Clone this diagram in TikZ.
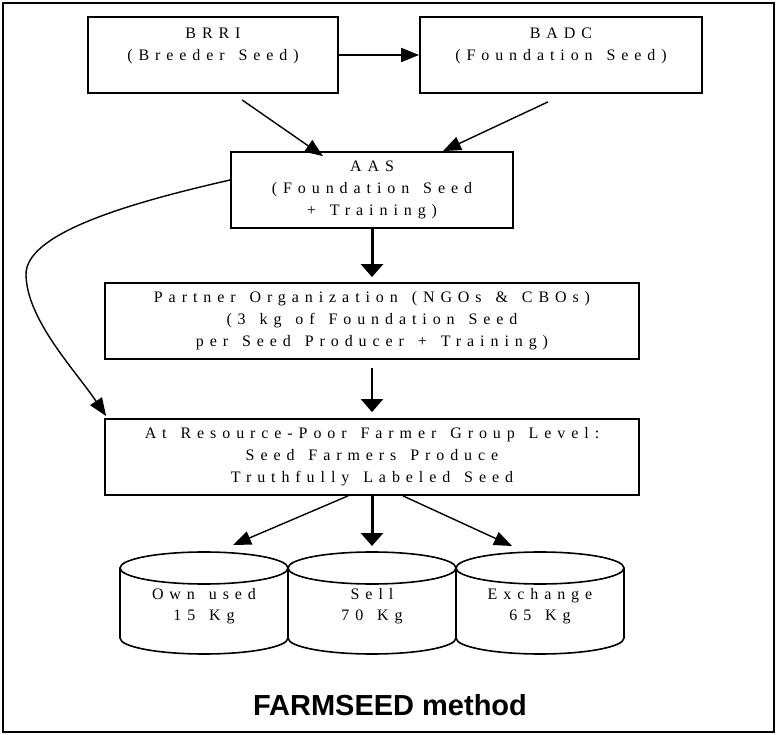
\documentclass[tikz,border=0pt]{standalone}
\usepackage{fontspec}
\setmainfont{Liberation Serif}
\newfontfamily\spacedfont[LetterSpace=37, WordSpace=1.4]{Liberation Serif}
\newfontfamily\titlefont{Liberation Sans}
\usetikzlibrary{arrows.meta}
\tikzstyle{box}      = [rectangle, draw=black, line width=1.8pt, minimum height=76pt, inner sep=0pt, align=center, font=\spacedfont\fontsize{16}{22}\selectfont]
\tikzstyle{cantext}  = [align=center, font=\spacedfont\fontsize{16}{21}\selectfont]
\tikzstyle{can}      = [line width=1.6pt]
\tikzstyle{arrow}    = [line width=1.4pt, -{Triangle[length=18pt,width=14pt]}]
\tikzstyle{bigarrow} = [line width=3pt, -{Triangle[length=13pt,width=22pt]}]

\begin{document}
\begin{tikzpicture}[x=1pt, y=-1pt, node distance=136pt]
      \useasboundingbox (0,0) rectangle (777,735);
      \draw [line width=2pt] (3,3) rectangle (774,732);

      \node (aas)     [box, minimum width=282pt] at (372,190) {AAS\\(Foundation Seed\\+ Training)};
      \node (brri)    [box, minimum width=250pt, above of=aas, xshift=-159pt, yshift=-1pt] {BRRI\\(Breeder Seed)\\\mbox{}};
      \node (badc)    [box, minimum width=282pt, above of=aas, xshift=189pt, yshift=-1pt] {BADC\\(Foundation Seed)\\\mbox{}};
      \node (partner) [box, minimum width=534pt, below of=aas, yshift=5pt] {Partner Organization (NGOs \& CBOs)\\(3 kg of Foundation Seed\\per Seed Producer + Training)};
      \node (fg)      [box, minimum width=534pt, below of=partner] {At Resource-Poor Farmer Group Level:\\Seed Farmers Produce\\Truthfully Labeled Seed};

      \node (sell)    [cantext, below of=fg, yshift=-13pt] {Sell\\70 Kg};
      \node (own)     [cantext, below of=fg, yshift=-13pt, xshift=-168pt] {Own used\\15 Kg};
      \node (exch)    [cantext, below of=fg, yshift=-13pt, xshift=168pt] {Exchange\\65 Kg};

      % seed stores
      \foreach \nm in {own,sell,exch} {
        \draw [can] ([yshift=38pt]\nm.center) ellipse [x radius=84pt, y radius=16pt];
        \draw [can] ([xshift=-84pt,yshift=38pt]\nm.center) -- ([xshift=-84pt,yshift=-32pt]\nm.center)
              arc [start angle=180, end angle=360, x radius=84pt, y radius=16pt]
              -- ([xshift=84pt,yshift=38pt]\nm.center);
      }

      \node (title) [font=\titlefont\bfseries\fontsize{29}{34}\selectfont, anchor=base] at (390,715) {FARMSEED method};

      \draw [arrow, line width=1.8pt] (brri.east |- 0,55) -- (badc.west |- 0,55);
      \draw [arrow] ([xshift=29pt,yshift=-6pt]brri.south) -- ([xshift=-49pt,yshift=-5pt]aas.north);
      \draw [arrow] ([xshift=-13pt,yshift=-8pt]badc.south) -- ([xshift=71pt]aas.north);

      \draw [bigarrow] (aas.south) -- ([yshift=5pt]partner.north);
      \draw [bigarrow, line width=2.2pt] ([yshift=-8pt]partner.south) -- ([yshift=6pt]fg.north);

      \draw [arrow] ([yshift=10pt]aas.west) .. controls (120,205) and (25,235) .. (26,275)
                    .. controls (27,320) and (75,370) .. ([xshift=2pt,yshift=2pt]fg.north west);

      \draw [arrow] ([xshift=-24pt]fg.south) -- ([xshift=29pt,yshift=61pt]own.center);
      \draw [bigarrow] (fg.south) -- ([yshift=60pt]sell.center);
      \draw [arrow] ([xshift=31pt]fg.south) -- ([xshift=-28pt,yshift=60pt]exch.center);

    \end{tikzpicture}
\end{document}
